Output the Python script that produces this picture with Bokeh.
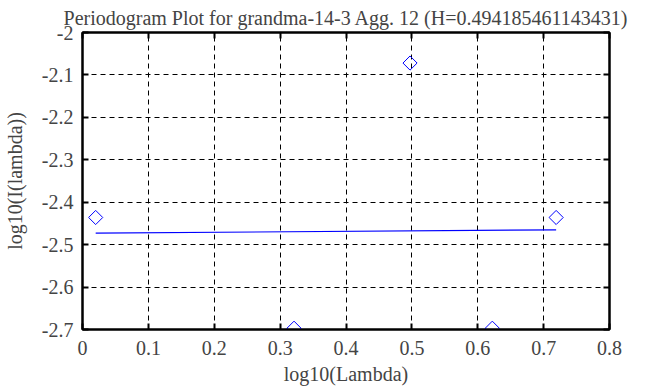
from bokeh.plotting import figure
from bokeh.models import Range1d, LinearAxis, FixedTicker, CustomJSTickFormatter, Title
from bokeh.embed import file_html
from bokeh.resources import INLINE
import math

# data
log_lambda = [0.0200, 0.3211, 0.4972, 0.6221, 0.7190]
log_I = [-2.436, -2.697, -2.072, -2.697, -2.436]
fit_x = [0.0200, 0.7190]
fit_y = [-2.473, -2.465]
x_ticks = [0.0, 0.1, 0.2, 0.3, 0.4, 0.5, 0.6, 0.7, 0.8]
y_ticks = [-2.7, -2.6, -2.5, -2.4, -2.3, -2.2, -2.1, -2.0]
title_text = "Periodogram Plot for grandma-14-3 Agg. 12 (H=0.494185461143431)"

FONT = "Liberation Serif"
FS = "20px"

p = figure(width=668, height=387, output_backend="svg", toolbar_location=None,
           x_range=Range1d(0, 0.8), y_range=Range1d(-2.7, -2.0),
           x_axis_label="log10(Lambda)", y_axis_label="log10(I(lambda))",
           min_border_left=82, min_border_right=59, min_border_top=32, min_border_bottom=56)
p.title = Title(text=title_text, align="center", text_font=FONT, text_font_size=FS,
                text_font_style="normal", standoff=8)
p.background_fill_color = "white"
p.border_fill_color = "white"
p.outline_line_color = "black"
p.outline_line_width = 2

fmt = CustomJSTickFormatter(code="return String(Math.round(tick*10)/10);")

for ax, ticks in ((p.xaxis[0], x_ticks), (p.yaxis[0], y_ticks)):
    ax.ticker = FixedTicker(ticks=ticks)
    ax.formatter = fmt
    ax.major_label_text_font = FONT
    ax.major_label_text_font_size = FS
    ax.axis_label_text_font = FONT
    ax.axis_label_text_font_size = FS
    ax.axis_label_text_font_style = "normal"
    ax.axis_line_width = 2
    ax.major_tick_in = 6
    ax.major_tick_out = 0
    ax.major_tick_line_width = 2
    ax.minor_tick_line_color = None

p.xaxis[0].major_label_standoff = 11
p.xaxis[0].axis_label_standoff = 5
p.yaxis[0].major_label_standoff = 9
p.yaxis[0].axis_label_standoff = 13

blank = CustomJSTickFormatter(code="return '';")
for loc, ticks in (("right", y_ticks), ("above", x_ticks)):
    ax = LinearAxis(ticker=FixedTicker(ticks=ticks), formatter=blank,
                    major_label_text_alpha=0,
                    major_tick_in=6, major_tick_out=0, major_tick_line_width=2,
                    minor_tick_line_color=None, axis_line_width=2, major_label_standoff=0)
    p.add_layout(ax, loc)

for g in (p.xgrid[0], p.ygrid[0]):
    g.grid_line_color = "black"
    g.grid_line_dash = "5 4"
    g.grid_line_width = 1

p.line(fit_x, fit_y, line_color="#0000ff", line_width=1.2)
p.scatter(log_lambda, log_I, marker="square", angle=math.pi / 4, size=10,
          fill_color=None, line_color="#0000ff", line_width=1)

open("out.html", "w").write(file_html(p, INLINE))
